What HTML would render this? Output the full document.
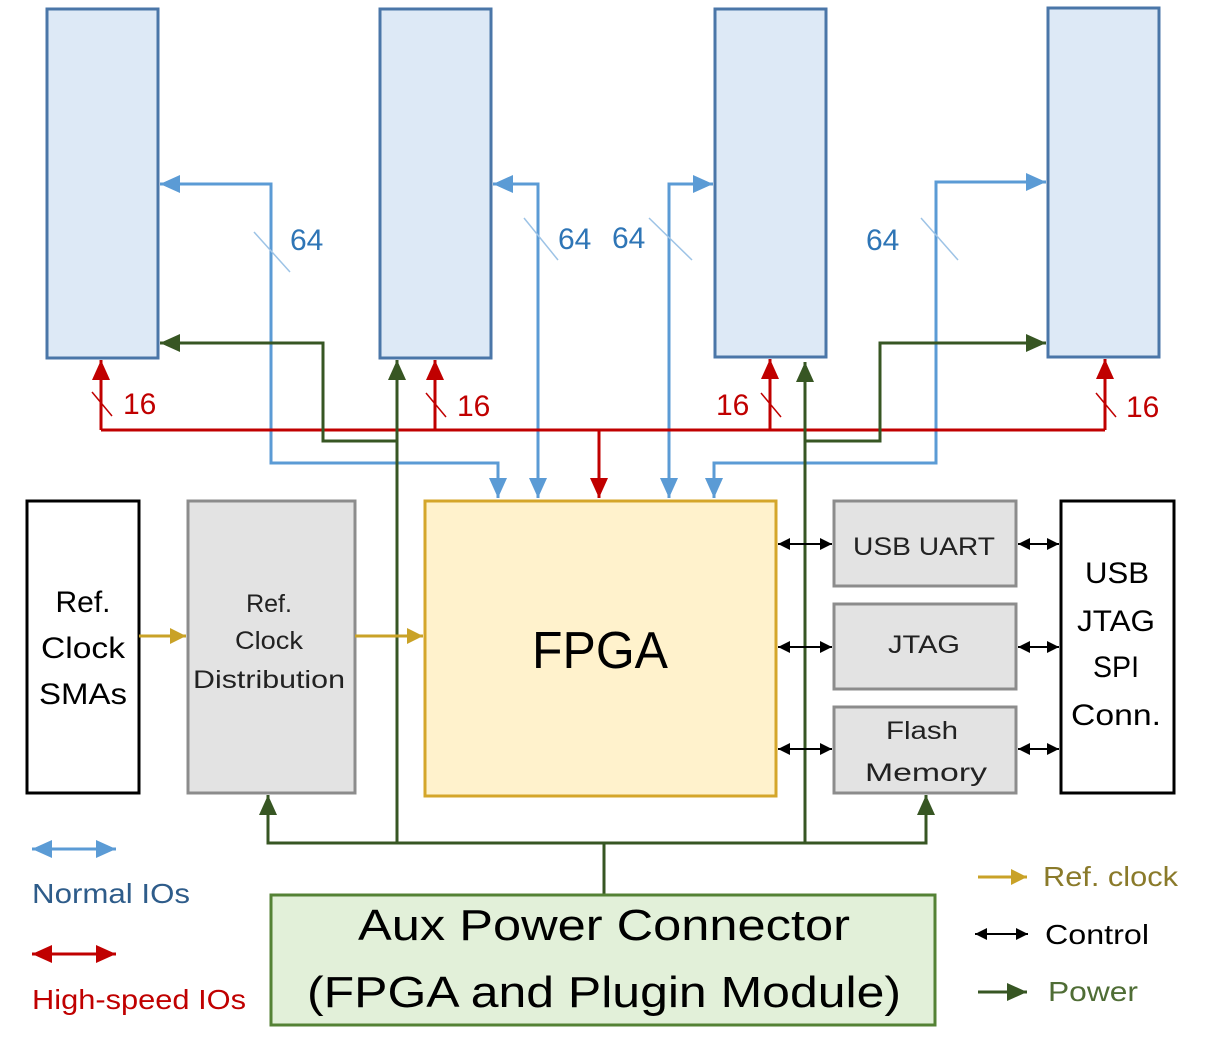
<!DOCTYPE html>
<html><head><meta charset="utf-8"><style>
html,body{margin:0;padding:0;background:#fff;}
svg{display:block;font-family:"Liberation Sans",sans-serif;}
</style></head><body>
<svg width="1211" height="1049" viewBox="0 0 1211 1049" xmlns="http://www.w3.org/2000/svg">
<defs>
<marker id="ab" markerWidth="8" markerHeight="8" refX="7" refY="4" orient="auto-start-reverse" markerUnits="userSpaceOnUse" viewBox="0 0 8 8"><path d="M0,0 L8,4 L0,8z" fill="#5b9bd5"/></marker>
<marker id="abL" markerWidth="20" markerHeight="18" refX="20" refY="9" orient="auto-start-reverse" markerUnits="userSpaceOnUse" viewBox="0 0 20 18"><path d="M0,0 L20,9 L0,18z" fill="#5b9bd5"/></marker>
<marker id="ar" markerWidth="20" markerHeight="18" refX="20" refY="9" orient="auto-start-reverse" markerUnits="userSpaceOnUse" viewBox="0 0 20 18"><path d="M0,0 L20,9 L0,18z" fill="#c00000"/></marker>
<marker id="ag" markerWidth="20" markerHeight="18" refX="20" refY="9" orient="auto-start-reverse" markerUnits="userSpaceOnUse" viewBox="0 0 20 18"><path d="M0,0 L20,9 L0,18z" fill="#375623"/></marker>
<marker id="ao" markerWidth="16" markerHeight="16" refX="16" refY="8" orient="auto-start-reverse" markerUnits="userSpaceOnUse" viewBox="0 0 16 16"><path d="M0,0 L16,8 L0,16z" fill="#c9a227"/></marker>
<marker id="ak" markerWidth="12" markerHeight="12" refX="12" refY="6" orient="auto-start-reverse" markerUnits="userSpaceOnUse" viewBox="0 0 12 12"><path d="M0,0 L12,6 L0,12z" fill="#000"/></marker>
</defs>

<!-- top boxes -->
<g fill="#dde9f6" stroke="#4a76a8" stroke-width="3">
<rect x="47" y="9" width="111" height="349"/>
<rect x="380" y="9" width="111" height="349"/>
<rect x="715" y="9" width="111" height="348"/>
<rect x="1048" y="8" width="111" height="349"/>
</g>

<!-- blue lines -->
<g fill="none" stroke="#5b9bd5" stroke-width="3">
<path d="M498,498 L498,463 L271,463 L271,184 L160,184" marker-start="url(#abL)" marker-end="url(#abL)"/>
<path d="M538,498 L538,184 L493,184" marker-start="url(#abL)" marker-end="url(#abL)"/>
<path d="M669,498 L669,184 L713,184" marker-start="url(#abL)" marker-end="url(#abL)"/>
<path d="M714,498 L714,463 L936,463 L936,182 L1046,182" marker-start="url(#abL)" marker-end="url(#abL)"/>
</g>
<g stroke="#9dc3e6" stroke-width="1.5">
<line x1="254" y1="232" x2="290" y2="272"/>
<line x1="524" y1="218" x2="558" y2="260"/>
<line x1="649" y1="218" x2="692" y2="260"/>
<line x1="921" y1="218" x2="958" y2="260"/>
</g>
<g fill="#2e75b6" font-size="30">
<text x="290" y="250">64</text>
<text x="558" y="249">64</text>
<text x="612" y="248">64</text>
<text x="866" y="250">64</text>
</g>

<!-- red lines -->
<g fill="none" stroke="#c00000" stroke-width="3">
<path d="M101,430 L1105,430"/>
<path d="M101,430 L101,360" marker-end="url(#ar)"/>
<path d="M435,430 L435,360" marker-end="url(#ar)"/>
<path d="M770,430 L770,359" marker-end="url(#ar)"/>
<path d="M1105,430 L1105,359" marker-end="url(#ar)"/>
<path d="M599,430 L599,498" marker-end="url(#ar)"/>
</g>
<g stroke="#c00000" stroke-width="1.5">
<line x1="92" y1="392" x2="112" y2="416"/>
<line x1="426" y1="393" x2="446" y2="417"/>
<line x1="761" y1="393" x2="781" y2="417"/>
<line x1="1096" y1="393" x2="1116" y2="417"/>
</g>
<g fill="#c00000" font-size="30">
<text x="123" y="414">16</text>
<text x="457" y="416">16</text>
<text x="716" y="415">16</text>
<text x="1126" y="417">16</text>
</g>

<!-- green lines -->
<g fill="none" stroke="#375623" stroke-width="3">
<path d="M397,843 L397,360" marker-end="url(#ag)"/>
<path d="M397,441 L323,441 L323,343 L160,343" marker-end="url(#ag)"/>
<path d="M805,843 L805,362" marker-end="url(#ag)"/>
<path d="M805,441 L880,441 L880,343 L1046,343" marker-end="url(#ag)"/>
<path d="M268,795 L268,843 L926,843 L926,795" marker-start="url(#ag)" marker-end="url(#ag)"/>
<path d="M604,843 L604,895"/>
</g>

<!-- middle boxes -->
<rect x="27" y="501" width="112" height="292" fill="#fff" stroke="#000" stroke-width="3"/>
<rect x="188" y="501" width="167" height="292" fill="#e3e3e3" stroke="#8c8c8c" stroke-width="3"/>
<rect x="425" y="501" width="351" height="295" fill="#fff2cc" stroke="#d4a62a" stroke-width="3"/>
<g fill="#e3e3e3" stroke="#8c8c8c" stroke-width="3">
<rect x="834" y="501" width="182" height="85"/>
<rect x="834" y="604" width="182" height="85"/>
<rect x="834" y="707" width="182" height="86"/>
</g>
<rect x="1061" y="501" width="113" height="292" fill="#fff" stroke="#000" stroke-width="3"/>
<rect x="271" y="895" width="664" height="130" fill="#e2f0d9" stroke="#548235" stroke-width="3"/>

<!-- orange arrows -->
<g stroke="#c9a227" stroke-width="3">
<line x1="139" y1="636" x2="186" y2="636" marker-end="url(#ao)"/>
<line x1="355" y1="636" x2="423" y2="636" marker-end="url(#ao)"/>
</g>
<!-- control arrows -->
<g stroke="#000" stroke-width="2">
<line x1="778" y1="544" x2="832" y2="544" marker-start="url(#ak)" marker-end="url(#ak)"/>
<line x1="778" y1="647" x2="832" y2="647" marker-start="url(#ak)" marker-end="url(#ak)"/>
<line x1="778" y1="749" x2="832" y2="749" marker-start="url(#ak)" marker-end="url(#ak)"/>
<line x1="1018" y1="544" x2="1059" y2="544" marker-start="url(#ak)" marker-end="url(#ak)"/>
<line x1="1018" y1="647" x2="1059" y2="647" marker-start="url(#ak)" marker-end="url(#ak)"/>
<line x1="1018" y1="749" x2="1059" y2="749" marker-start="url(#ak)" marker-end="url(#ak)"/>
</g>

<!-- box text -->
<g fill="#000" text-anchor="middle">
<text x="83" y="612" font-size="30">Ref.</text>
<text x="83" y="658" font-size="30" textLength="84" lengthAdjust="spacingAndGlyphs">Clock</text>
<text x="83" y="704" font-size="30" textLength="88" lengthAdjust="spacingAndGlyphs">SMAs</text>
<g fill="#222" font-size="25">
<text x="269" y="612">Ref.</text>
<text x="269" y="649" textLength="68" lengthAdjust="spacingAndGlyphs">Clock</text>
<text x="269" y="688" textLength="152" lengthAdjust="spacingAndGlyphs">Distribution</text>
<text x="924" y="555" textLength="142" lengthAdjust="spacingAndGlyphs">USB UART</text>
<text x="924" y="653" textLength="72" lengthAdjust="spacingAndGlyphs">JTAG</text>
<text x="922" y="739" textLength="72" lengthAdjust="spacingAndGlyphs">Flash</text>
<text x="926" y="781" textLength="122" lengthAdjust="spacingAndGlyphs">Memory</text>
</g>
<text x="600" y="668" font-size="52" textLength="136" lengthAdjust="spacingAndGlyphs">FPGA</text>
<text x="1117" y="583" font-size="30" textLength="64" lengthAdjust="spacingAndGlyphs">USB</text>
<text x="1116" y="631" font-size="30" textLength="78" lengthAdjust="spacingAndGlyphs">JTAG</text>
<text x="1116" y="677" font-size="30" textLength="46" lengthAdjust="spacingAndGlyphs">SPI</text>
<text x="1116" y="725" font-size="30" textLength="90" lengthAdjust="spacingAndGlyphs">Conn.</text>
<text x="604" y="940" font-size="44" textLength="492" lengthAdjust="spacingAndGlyphs">Aux Power Connector</text>
<text x="604" y="1007" font-size="44" textLength="594" lengthAdjust="spacingAndGlyphs">(FPGA and Plugin Module)</text>
</g>

<!-- legend -->
<g stroke-width="3">
<line x1="32" y1="849" x2="116" y2="849" stroke="#5b9bd5" marker-start="url(#abL)" marker-end="url(#abL)"/>
<line x1="32" y1="954" x2="116" y2="954" stroke="#c00000" marker-start="url(#ar)" marker-end="url(#ar)"/>
<line x1="978" y1="877" x2="1027" y2="877" stroke="#c9a227" marker-end="url(#ao)"/>
<line x1="975" y1="934" x2="1028" y2="934" stroke="#000" stroke-width="2" marker-start="url(#ak)" marker-end="url(#ak)"/>
<line x1="978" y1="992" x2="1027" y2="992" stroke="#375623" marker-end="url(#ag)"/>
</g>
<text x="32" y="903" font-size="28" fill="#2e5c8a" textLength="158" lengthAdjust="spacingAndGlyphs">Normal IOs</text>
<text x="32" y="1009" font-size="28" fill="#c00000" textLength="214" lengthAdjust="spacingAndGlyphs">High-speed IOs</text>
<text x="1043" y="886" font-size="28" fill="#8a7a2a" textLength="135" lengthAdjust="spacingAndGlyphs">Ref. clock</text>
<text x="1045" y="944" font-size="28" fill="#000" textLength="104" lengthAdjust="spacingAndGlyphs">Control</text>
<text x="1048" y="1001" font-size="28" fill="#4f6d35" textLength="90" lengthAdjust="spacingAndGlyphs">Power</text>
</svg>
</body></html>
